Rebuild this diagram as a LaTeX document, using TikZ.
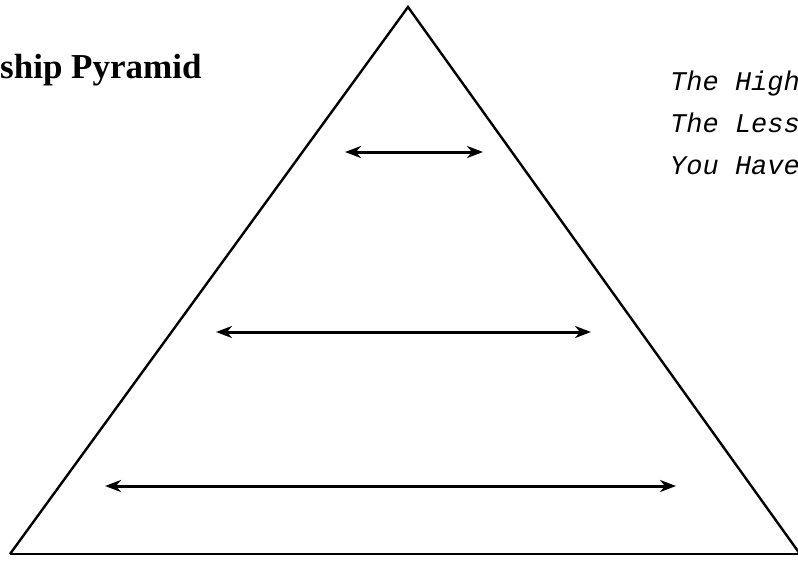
\documentclass[tikz,border=0pt]{standalone}
\usepackage{fontspec}
\setmainfont{Liberation Serif}
\newfontfamily\slantfont{Liberation Mono}
\usetikzlibrary{arrows.meta}

\tikzset{
  reachtip/.tip={Stealth[length=16pt,width=12pt,inset=5pt]},
}

\begin{document}
\begin{tikzpicture}[
x=1pt,y=-1pt,
edge/.style={line width=2.4pt,line join=miter},
reach/.style={draw,line width=3pt,reachtip-reachtip},
title/.style={font=\fontsize{35}{40}\selectfont\bfseries,anchor=base west,inner sep=0pt},
note/.style={font=\slantfont\itshape\fontsize{27}{32}\selectfont,anchor=base west,inner sep=0pt}
]
\useasboundingbox (0,0) rectangle (798,560);
\clip (0,0) rectangle (798,560);

% pyramid
\coordinate (apex) at (408,7);
\coordinate (left) at (10,554);
\coordinate (right) at (800,554);
\draw[edge] (left) -- (apex) -- (right);
\draw[edge] (left) -- (right);

% reach of each level
\coordinate (topL) at (345,152);
\coordinate (topR) at (483,152);
\coordinate (midL) at (216,332);
\coordinate (midR) at (591,332);
\coordinate (lowL) at (105,486);
\coordinate (lowR) at (676,486);
\path[reach] (topL) -- (topR);
\path[reach] (midL) -- (midR);
\path[reach] (lowL) -- (lowR);

% labels
\node[title] (heading) at (0,78) {ship Pyramid};
\node[note] (high) at (670,90) {The High};
\node[note] (less) at (670,132) {The Less};
\node[note] (have) at (670,174) {You Have};

\end{tikzpicture}
\end{document}
